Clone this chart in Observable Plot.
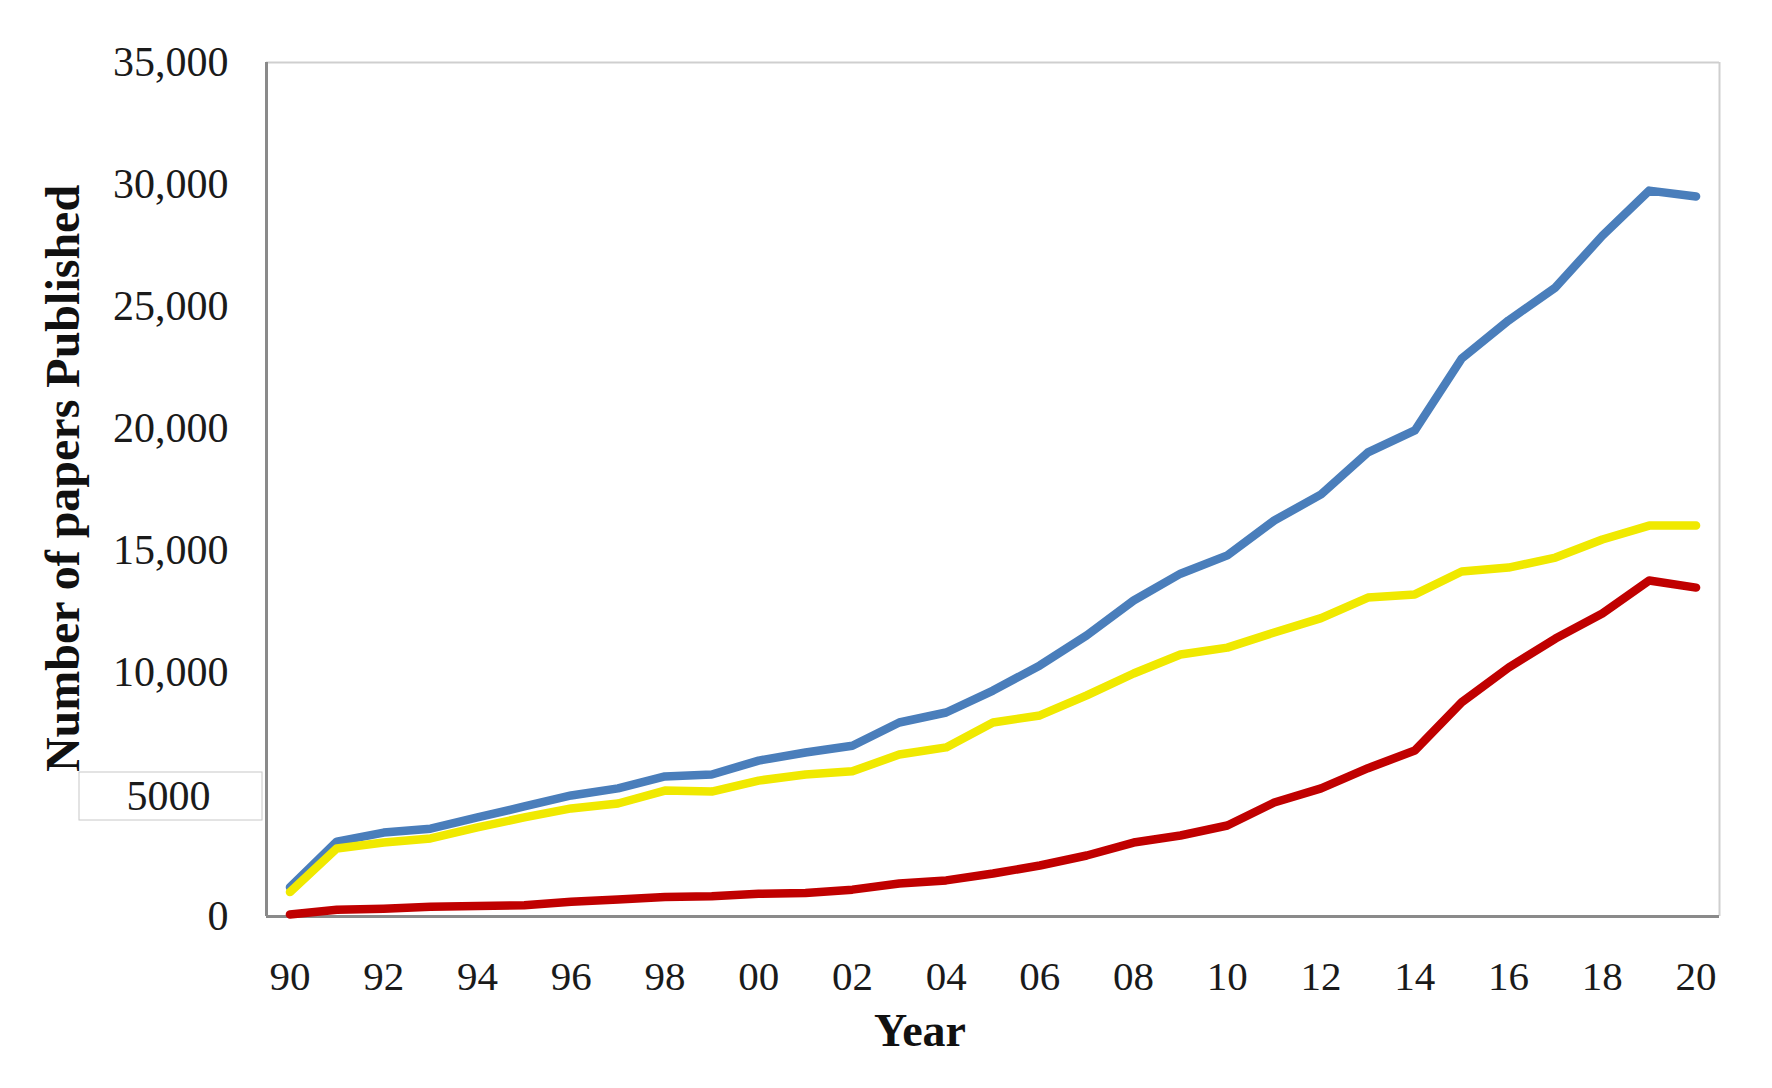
<!DOCTYPE html>
<html>
<head>
<meta charset="utf-8">
<script src="https://cdn.jsdelivr.net/npm/d3@7"></script>
<script src="https://cdn.jsdelivr.net/npm/@observablehq/plot@0.6"></script>
<style>
  html, body { margin: 0; padding: 0; background: #ffffff; }
  #chart svg { display: block; }
</style>
</head>
<body>
<div id="chart"></div>
<script>
// ---------- data ----------
const years = [1990, 1991, 1992, 1993, 1994, 1995, 1996, 1997, 1998, 1999,
               2000, 2001, 2002, 2003, 2004, 2005, 2006, 2007, 2008, 2009,
               2010, 2011, 2012, 2013, 2014, 2015, 2016, 2017, 2018, 2019, 2020];

const blueSeries = [1200, 3070, 3440, 3600, 4060, 4510, 4960, 5250, 5740, 5820,
                    6390, 6720, 7000, 7950, 8360, 9260, 10290, 11520, 12950, 14050,
                    14800, 16230, 17300, 19020, 19920, 22870, 24430, 25780, 27900, 29750, 29510];

const yellowSeries = [1000, 2790, 3030, 3200, 3650, 4060, 4430, 4630, 5160, 5120,
                      5570, 5820, 5950, 6640, 6930, 7950, 8240, 9060, 9960, 10740,
                      11020, 11640, 12230, 13070, 13200, 14140, 14300, 14710, 15450, 16020, 16020];

const redSeries = [80, 280, 320, 400, 430, 460, 600, 700, 800, 830,
                   930, 960, 1100, 1350, 1480, 1760, 2090, 2500, 3030, 3320,
                   3730, 4670, 5250, 6080, 6800, 8780, 10200, 11390, 12420, 13770, 13480];

const xTicks = [1990, 1992, 1994, 1996, 1998, 2000, 2002, 2004, 2006, 2008,
                2010, 2012, 2014, 2016, 2018, 2020];
const xTickLabels = ["90", "92", "94", "96", "98", "00", "02", "04", "06", "08",
                     "10", "12", "14", "16", "18", "20"];

const yTicks = [0, 5000, 10000, 15000, 20000, 25000, 30000, 35000];
const yTickLabels = ["0", "", "10,000", "15,000", "20,000", "25,000", "30,000", "35,000"];

const boxedTick = [5000];
const boxedTickLabel = "5000";

const yTitle = "Number of papers Published";
const xTitle = "Year";

// ---------- build ----------
const toRows = (vals) => years.map((year, i) => ({year, value: vals[i]}));
const blueRows = toRows(blueSeries);
const yellowRows = toRows(yellowSeries);
const redRows = toRows(redSeries);

const xLabelMap = new Map(xTicks.map((t, i) => [t, xTickLabels[i]]));
const yLabelMap = new Map(yTicks.map((t, i) => [t, yTickLabels[i]]));

const font = "'Liberation Serif', 'Times New Roman', serif";
const lineStyle = {x: "year", y: "value", strokeWidth: 8.5, strokeLinecap: "round", strokeLinejoin: "round"};

const chart = Plot.plot({
  width: 1772,
  height: 1088,
  marginLeft: 266,
  marginRight: 53,
  marginTop: 62,
  marginBottom: 172,
  x: {domain: [1989.5, 2020.5]},
  y: {domain: [0, 35000]},
  style: {fontFamily: font, background: "#ffffff", color: "#1a1a1a"},
  marks: [
    // frame
    Plot.ruleY([35000], {stroke: "#cfcfcf", strokeWidth: 2}),
    Plot.ruleX([2020.5], {stroke: "#cfcfcf", strokeWidth: 2}),
    Plot.ruleX([1989.5], {stroke: "#8a8a8a", strokeWidth: 3}),
    Plot.ruleY([0], {stroke: "#8a8a8a", strokeWidth: 3}),
    // axes
    Plot.axisY({ticks: yTicks, tickFormat: (d) => yLabelMap.get(d), tickSize: 0, tickPadding: 38,
                fontSize: 42, fill: "#1a1a1a", label: null}),
    Plot.axisX({ticks: xTicks, tickFormat: (d) => xLabelMap.get(d), tickSize: 0, tickPadding: 44,
                fontSize: 41, fill: "#1a1a1a", label: null}),
    // boxed 5000 label
    Plot.rect(boxedTick, {x1: 1989.5, x2: 1989.5, y1: (d) => d, y2: (d) => d,
                          insetLeft: -187, insetRight: 4, insetTop: -22, insetBottom: -26,
                          fill: "#ffffff", stroke: "#c8c8c8", strokeWidth: 1}),
    Plot.text(boxedTick, {x: 1989.5, y: (d) => d, text: () => boxedTickLabel, dx: -98, dy: 2,
                          fontSize: 42, fill: "#1a1a1a", textAnchor: "middle"}),
    // titles
    Plot.text([yTitle], {text: (d) => d, frameAnchor: "left", rotate: -90, dx: -203, dy: -11,
                         fontSize: 48, fontWeight: "bold", fill: "#111", textAnchor: "middle", lineAnchor: "middle"}),
    Plot.text([xTitle], {text: (d) => d, frameAnchor: "bottom", dx: -73, dy: 115,
                         fontSize: 46, fontWeight: "bold", fill: "#111", textAnchor: "middle", lineAnchor: "middle"}),
    // series
    Plot.lineY(blueRows, {...lineStyle, stroke: "#4a7ebb"}),
    Plot.lineY(yellowRows, {...lineStyle, stroke: "#f0e900"}),
    Plot.lineY(redRows, {...lineStyle, stroke: "#c00000"})
  ]
});

document.getElementById("chart").append(chart);
</script>
</body>
</html>
